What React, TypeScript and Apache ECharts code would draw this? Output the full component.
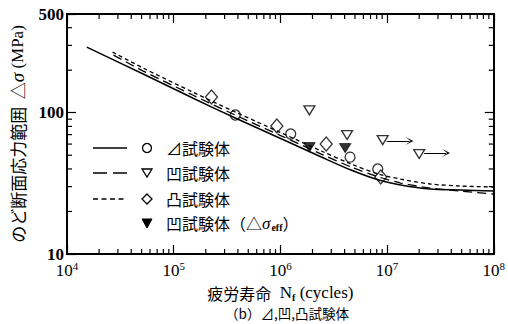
import React, { useEffect, useRef } from "react";
import * as echarts from "echarts";

// ---- data ----
const solidN = [15330, 51800, 150700, 377600, 1030000, 2420000, 4590000, 8360000, 13400000, 25400000, 48200000, 100000000];
const solidS = [291.7, 187.9, 127.1, 91.7, 65.2, 48.6, 39.3, 33.4, 30.8, 28.8, 28.4, 27.9];

const shortN = [26710, 51800, 150700, 377600, 1030000, 2420000, 4590000, 8360000, 13400000, 25400000, 48200000, 100000000];
const shortS = [268.9, 207.2, 140.1, 101.2, 71.8, 53.6, 43.4, 36.8, 33.9, 31.3, 30.3, 29.8];

const longN = [27290, 51800, 150700, 377600, 1030000, 2420000, 4590000, 8360000, 13400000, 25400000, 48200000, 100000000];
const longS = [256.0, 197.3, 133.5, 96.3, 68.4, 51.0, 41.3, 35.1, 31.8, 29.3, 27.9, 26.6];

const circleN = [378000, 1250000, 4500000, 8180000];
const circleS = [96.4, 70.7, 48.5, 40.0];

const diamondN = [226000, 927000, 2690000, 8730000];
const diamondS = [129, 80.5, 60, 35.1];

const triOpenN = [1870000, 4220000, 9100000, 20000000];
const triOpenS = [104, 69.5, 64, 51];

const triFillN = [1870000, 4050000];
const triFillS = [57.1, 56.2];

const arrowFromN = [9900000, 22300000];
const arrowToN = [16200000, 35700000];
const arrowS = [63.0, 51.9];

const xDecades = [1e4, 1e5, 1e6, 1e7];
const minorMult = [2, 3, 4, 5, 6, 7, 8, 9];
const yMinor = [20, 30, 40, 50, 60, 70, 80, 90, 200, 300, 400];

const legendLabels = ["⊿試験体", "凹試験体", "凸試験体"];

const zip = (a: number[], b: number[]) => a.map((v, i) => [v, b[i]]);

const TRI_DOWN = "path://M0,0L12,0L6,10Z";
const OPEN_ARROW = "path://M0,10L5,0L10,10L5,3.5Z";

export default function App() {
  const ref = useRef<HTMLDivElement>(null);
  useEffect(() => {
    document.body.style.margin = "0";
    const chart = echarts.init(ref.current!, null, { renderer: "svg" });
    const xMinor: number[] = [];
    xDecades.forEach((d) => minorMult.forEach((m) => xMinor.push(d * m)));

    const serif = "'Liberation Serif', 'Times New Roman', serif";
    const cjk = "'Noto Sans CJK JP', sans-serif";

    const legendRowY = [148, 173, 199, 223];
    const lineDashes: any[] = [null, [14, 6], [5, 3.5]];

    const legendGraphics: any[] = [];
    legendRowY.forEach((y, i) => {
      if (i < 3) {
        legendGraphics.push({
          type: "line",
          shape: { x1: 93, y1: y, x2: 127, y2: y },
          style: { stroke: "#000", lineWidth: 1.5, lineDash: lineDashes[i] },
        });
      }
    });
    legendGraphics.push({ type: "circle", shape: { cx: 147, cy: 148, r: 4.5 }, style: { fill: "#fff", stroke: "#000", lineWidth: 1.3 } });
    legendGraphics.push({ type: "polygon", shape: { points: [[142, 169], [152, 169], [147, 177]] }, style: { fill: "#fff", stroke: "#000", lineWidth: 1.3 } });
    legendGraphics.push({ type: "polygon", shape: { points: [[147, 194], [152, 199], [147, 204], [142, 199]] }, style: { fill: "#fff", stroke: "#000", lineWidth: 1.3 } });
    legendGraphics.push({ type: "polygon", shape: { points: [[142, 219], [152, 219], [147, 228]] }, style: { fill: "#000", stroke: "#000", lineWidth: 1 } });
    legendLabels.forEach((t, i) => {
      legendGraphics.push({
        type: "text",
        x: 166,
        y: legendRowY[i],
        style: { text: t, font: `16px ${cjk}`, fill: "#000", verticalAlign: "middle" },
      });
    });
    legendGraphics.push({
      type: "text",
      x: 166,
      y: legendRowY[3],
      style: {
        text: "{a|凹試験体（△}{g|σ}{s|eff}{a|）}",
        verticalAlign: "middle",
        rich: {
          a: { font: `16px ${cjk}`, fill: "#000" },
          g: { font: `italic 17px ${serif}`, fill: "#000" },
          s: { font: `bold 10px ${serif}`, fill: "#000", padding: [8, 0, 0, 1] },
        },
      },
    });
    legendGraphics.push({
      type: "text",
      x: 287,
      y: 313,
      style: {
        text: "（b）⊿,凹,凸試験体",
        font: `13.5px ${cjk}`,
        fill: "#000",
        align: "center",
        verticalAlign: "middle",
      },
    });

    const tickStyle = { color: "#000", width: 1.2 };

    chart.setOption({
      animation: false,
      backgroundColor: "#fff",
      grid: { left: 63, right: 14, top: 14, bottom: 70 },
      xAxis: [
        {
          type: "log",
          logBase: 10,
          min: 1e4,
          max: 1e8,
          position: "bottom",
          axisLine: { lineStyle: { color: "#000", width: 2 } },
          axisTick: { inside: true, length: 9, lineStyle: tickStyle },
          splitLine: { show: false },
          axisLabel: {
            margin: 6,
            color: "#000",
            formatter: (v: number) => `{b|10}{s|${Math.round(Math.log10(v))}}`,
            rich: {
              b: { fontFamily: serif, fontSize: 17, color: "#000" },
              s: { fontFamily: serif, fontSize: 11, color: "#000", verticalAlign: "bottom", padding: [0, 0, 9, 0] },
            },
          },
          name: "{c|疲労寿命}{l|  N}{f|f}{l| (cycles)}",
          nameLocation: "middle",
          nameGap: 29,
          nameTextStyle: {
            rich: {
              c: { fontFamily: cjk, fontSize: 16, color: "#000" },
              l: { fontFamily: serif, fontSize: 17, color: "#000" },
              f: { fontFamily: serif, fontSize: 10, color: "#000", fontWeight: "bold", padding: [9, 0, 0, 0] },
            },
          },
        },
        {
          type: "log",
          logBase: 10,
          min: 1e4,
          max: 1e8,
          position: "top",
          axisLine: { lineStyle: { color: "#000", width: 2 } },
          axisTick: { inside: true, length: 9, lineStyle: tickStyle },
          axisLabel: { show: false },
          splitLine: { show: false },
        },
      ],
      yAxis: [
        {
          type: "log",
          logBase: 10,
          min: 10,
          max: 500,
          splitNumber: 2,
          position: "left",
          axisLine: { lineStyle: { color: "#000", width: 2 } },
          axisTick: { inside: true, length: 9, lineStyle: tickStyle },
          splitLine: { show: false },
          axisLabel: {
            margin: 3,
            color: "#000",
            fontFamily: serif,
            fontSize: 17,
            fontWeight: "bold",
            formatter: (v: number) => String(Math.round(v)),
          },
          name: "{c|のど断面応力範囲  △}{g|σ}{l| (MPa)}",
          nameLocation: "middle",
          nameRotate: 90,
          nameGap: 40,
          nameTextStyle: {
            rich: {
              c: { fontFamily: cjk, fontSize: 17, color: "#000" },
              g: { fontFamily: serif, fontSize: 19, fontStyle: "italic", color: "#000" },
              l: { fontFamily: serif, fontSize: 17, color: "#000" },
            },
          },
        },
        {
          type: "log",
          logBase: 10,
          min: 10,
          max: 500,
          splitNumber: 2,
          position: "right",
          axisLine: { lineStyle: { color: "#000", width: 2 } },
          axisTick: { inside: true, length: 9, lineStyle: tickStyle },
          axisLabel: { show: false },
          splitLine: { show: false },
        },
      ],
      graphic: legendGraphics,
      series: [
        {
          name: "minorX",
          type: "custom",
          silent: true,
          clip: false,
          encode: { x: 0, y: 1 },
          data: xMinor.map((v) => [v, 10]),
          renderItem: (params: any, api: any) => {
            const v = api.value(0);
            const pb = api.coord([v, 10]);
            const pt = api.coord([v, 500]);
            return {
              type: "group",
              children: [
                { type: "line", shape: { x1: pb[0], y1: pb[1], x2: pb[0], y2: pb[1] - 5 }, style: { stroke: "#000", lineWidth: 1.2 } },
                { type: "line", shape: { x1: pt[0], y1: pt[1], x2: pt[0], y2: pt[1] + 5 }, style: { stroke: "#000", lineWidth: 1.2 } },
              ],
            };
          },
        },
        {
          name: "minorY",
          type: "custom",
          silent: true,
          clip: false,
          encode: { x: 0, y: 1 },
          data: yMinor.map((v) => [1e4, v]),
          renderItem: (params: any, api: any) => {
            const v = api.value(1);
            const pl = api.coord([1e4, v]);
            const pr = api.coord([1e8, v]);
            return {
              type: "group",
              children: [
                { type: "line", shape: { x1: pl[0], y1: pl[1], x2: pl[0] + 5, y2: pl[1] }, style: { stroke: "#000", lineWidth: 1.2 } },
                { type: "line", shape: { x1: pr[0], y1: pr[1], x2: pr[0] - 5, y2: pr[1] }, style: { stroke: "#000", lineWidth: 1.2 } },
              ],
            };
          },
        },
        {
          name: "⊿",
          type: "line",
          data: zip(solidN, solidS),
          showSymbol: false,
          smooth: 0.3,
          lineStyle: { color: "#000", width: 1.5 },
        },
        {
          name: "凹",
          type: "line",
          data: zip(longN, longS),
          showSymbol: false,
          smooth: 0.3,
          lineStyle: { color: "#000", width: 1.3, type: [9, 5] },
        },
        {
          name: "凸",
          type: "line",
          data: zip(shortN, shortS),
          showSymbol: false,
          smooth: 0.3,
          lineStyle: { color: "#000", width: 1.3, type: [4, 3] },
        },
        {
          name: "⊿試験体",
          type: "scatter",
          data: zip(circleN, circleS),
          symbol: "circle",
          symbolSize: 10,
          itemStyle: { color: "#fff", borderColor: "#000", borderWidth: 1.3 },
        },
        {
          name: "凸試験体",
          type: "scatter",
          data: zip(diamondN, diamondS),
          symbol: "diamond",
          symbolSize: [12, 14],
          itemStyle: { color: "#fff", borderColor: "#000", borderWidth: 1.3 },
        },
        {
          name: "凹試験体",
          type: "scatter",
          data: zip(triOpenN, triOpenS),
          symbol: TRI_DOWN,
          symbolSize: [11, 9],
          itemStyle: { color: "#fff", borderColor: "#000", borderWidth: 1.3 },
          markLine: {
            silent: true,
            symbol: ["none", OPEN_ARROW],
            symbolSize: [8, 8],
            label: { show: false },
            lineStyle: { color: "#000", width: 1, type: "solid" },
            data: arrowFromN.map((n, i) => [
              { coord: [n, arrowS[i]] },
              { coord: [arrowToN[i], arrowS[i]] },
            ]),
          },
        },
        {
          name: "凹試験体(Δσeff)",
          type: "scatter",
          data: zip(triFillN, triFillS),
          symbol: TRI_DOWN,
          symbolSize: [11, 9],
          itemStyle: { color: "#000", borderColor: "#000", borderWidth: 1 },
        },
      ],
    });
    return () => chart.dispose();
  }, []);
  return <div ref={ref} style={{ width: 508, height: 324 }} />;
}
